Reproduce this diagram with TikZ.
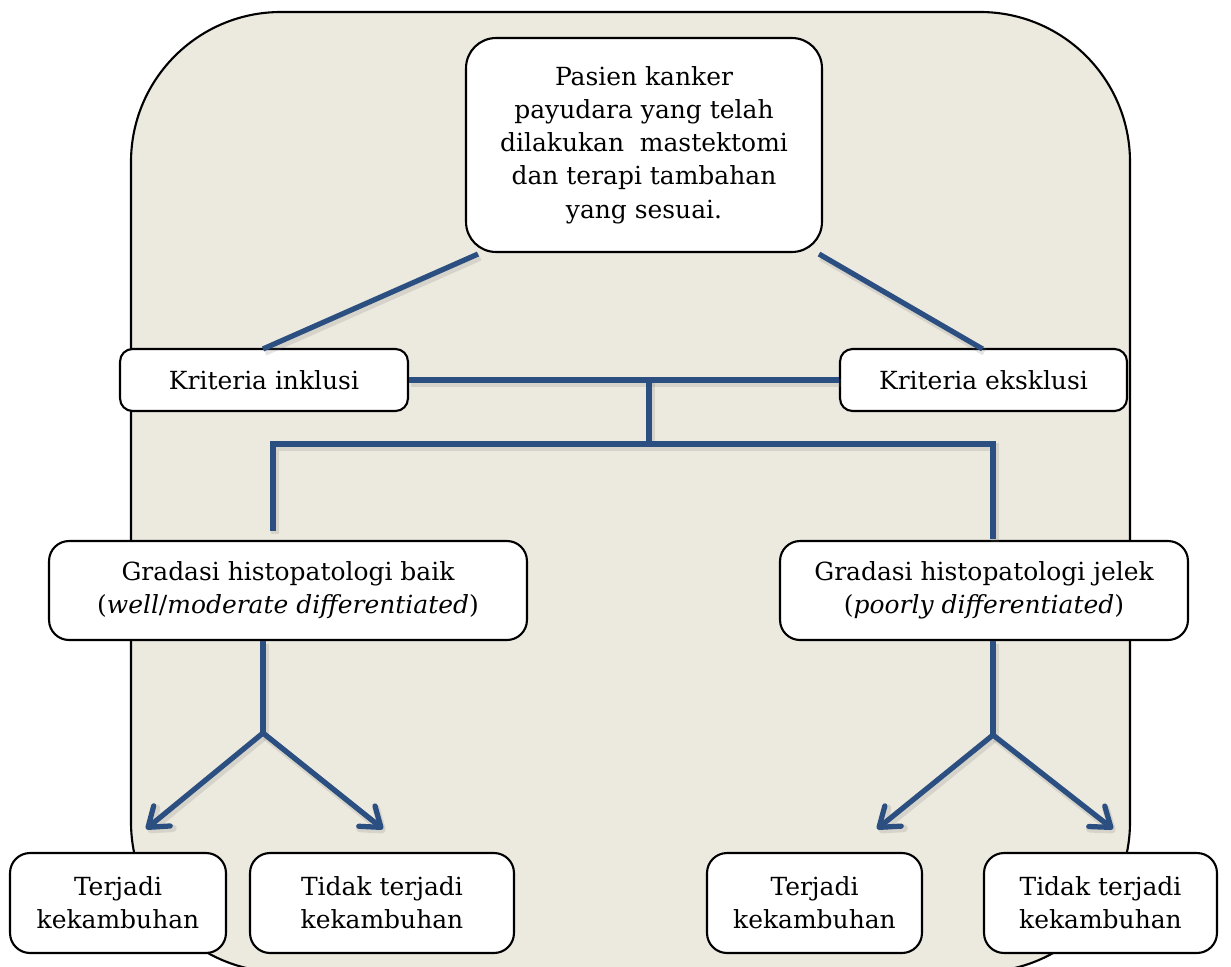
\documentclass[tikz,border=0pt]{standalone}
\usepackage{fontspec}
\setmainfont{DejaVu Serif}
\usetikzlibrary{arrows.meta,calc}
\definecolor{bgfill}{HTML}{ECE9DF}
\definecolor{linkblue}{HTML}{2B4F81}
\tikzset{
  box/.style={draw=black, line width=1.2pt, fill=white, rounded corners=#1, align=center, inner sep=0pt, font=\fontsize{14.2}{18.9}\selectfont},
  box/.default=0.3cm,
  shad/.style={preaction={draw=black!55, draw opacity=0.18, line width=0.15cm, transform canvas={shift={(0.04cm,-0.06cm)}}}},
  link/.style={draw=linkblue, line width=0.105cm, shad},
  arr/.style={link, line cap=round, -{Straight Barb[length=0.36cm,width=0.52cm,line cap=round,line join=round]}},
}
\begin{document}
\begin{tikzpicture}[x=0.02cm,y=-0.02cm]
\useasboundingbox (0,0) rectangle (1231,967);
\begin{scope}
\clip (0,0) rectangle (1231,967);
\draw[fill=bgfill, line width=1.2pt, rounded corners=3cm] (131,12) rectangle (1130,972);
\end{scope}

\node[box=0.6cm, minimum width=7.12cm, minimum height=4.28cm] (top) at (644,145)
  {Pasien kanker\\payudara yang telah\\dilakukan\ \ mastektomi\\dan terapi tambahan\\yang sesuai.};
\node[box=0.25cm, minimum width=5.76cm, minimum height=1.24cm] (inkl) at (264,380) {Kriteria inklusi};
\node[box=0.25cm, minimum width=5.74cm, minimum height=1.24cm] (eksk) at (983.5,380) {Kriteria eksklusi};
\node[box=0.4cm, minimum width=9.56cm, minimum height=1.98cm] (baik) at (288,590.5)
  {Gradasi histopatologi baik\\(\textit{well}/\textit{moderate differentiated})};
\node[box=0.4cm, minimum width=8.16cm, minimum height=1.98cm] (jelek) at (984,590.5)
  {Gradasi histopatologi jelek\\(\textit{poorly differentiated})};
\node[box=0.4cm, minimum width=4.32cm, minimum height=2.0cm] (t1) at (118,903) {Terjadi\\kekambuhan};
\node[box=0.4cm, minimum width=5.28cm, minimum height=2.0cm] (n1) at (382,903) {Tidak terjadi\\kekambuhan};
\node[box=0.4cm, minimum width=4.30cm, minimum height=2.0cm] (t2) at (814.5,903) {Terjadi\\kekambuhan};
\node[box=0.4cm, minimum width=4.66cm, minimum height=2.0cm] (n2) at (1100.5,903) {Tidak terjadi\\kekambuhan};

% connectors from top box
\draw[link] ($(top.south west)+(13,1)$) -- ($(inkl.north)+(-1,1)$);
\draw[link] ($(top.south east)+(-4,1)$) -- ($(eksk.north)+(-1,1)$);

% inclusion/exclusion bar
\draw[link] (inkl.east) -- (eksk.east -| eksk.west);
\coordinate (mid) at (649,380);
\coordinate (midlow) at (649,444);
\draw[link] (mid) -- (midlow);
\coordinate (lb) at (273,444);
\coordinate (rb) at (993,444);
\draw[link, line join=miter] ($(baik.north)+(-15,-9)$) -- (lb) -- (rb) -- ($(jelek.north)+(9,-1)$);

% branches
\coordinate (bj1) at (263,733);
\coordinate (bj2) at (993,735);
\coordinate (a1) at (146,829);
\coordinate (a2) at (383,829);
\coordinate (a3) at (877,829);
\coordinate (a4) at (1113,829);
\draw[link] ($(baik.south)+(-25,0)$) -- (bj1);
\draw[link] ($(jelek.south)+(9,0)$) -- (bj2);
\draw[arr] (bj1) -- (a1);
\draw[arr] (bj1) -- (a2);
\draw[arr] (bj2) -- (a3);
\draw[arr] (bj2) -- (a4);
\end{tikzpicture}
\end{document}
